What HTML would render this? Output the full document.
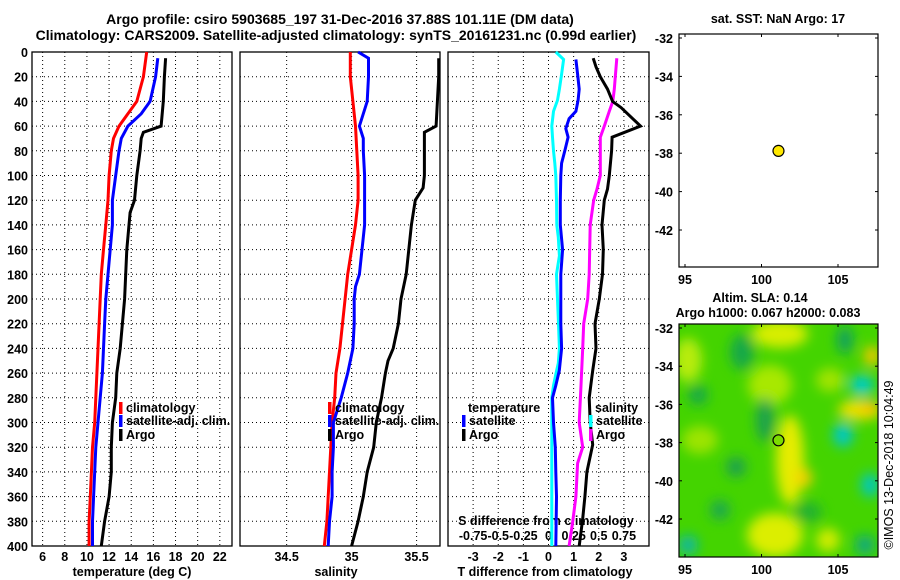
<!DOCTYPE html>
<html><head><meta charset="utf-8"><style>
body{margin:0;background:#fff}
svg{display:block;font-family:"Liberation Sans",sans-serif;font-weight:bold}
text{font-size:12.5px;fill:#000}
</style></head><body>
<svg id="c" width="900" height="580" viewBox="0 0 900 580" xmlns="http://www.w3.org/2000/svg">
<defs>
<filter id="bl" x="-20%" y="-20%" width="140%" height="140%"><feGaussianBlur stdDeviation="6"/></filter>
<clipPath id="mc"><rect x="679" y="324" width="199" height="233"/></clipPath>
</defs>
<text x="340" y="24" text-anchor="middle" style="font-size:14px">Argo profile: csiro 5903685_197 31-Dec-2016 37.88S 101.11E (DM data)</text>
<text x="336" y="40" text-anchor="middle" style="font-size:14px">Climatology: CARS2009. Satellite-adjusted climatology: synTS_20161231.nc (0.99d earlier)</text>
<text x="778" y="23" text-anchor="middle">sat. SST: NaN Argo: 17</text>
<text x="760" y="302" text-anchor="middle">Altim. SLA: 0.14</text>
<text x="768" y="317" text-anchor="middle">Argo h1000: 0.067 h2000: 0.083</text>
<text transform="translate(893,465) rotate(-90)" text-anchor="middle" style="font-weight:normal;font-size:12.5px">©IMOS 13-Dec-2018 10:04:49</text>
<g id="heat" clip-path="url(#mc)">
<rect x="679" y="324" width="199" height="233" fill="#44d400"/>
<g filter="url(#bl)">
<ellipse cx="688" cy="360" rx="14" ry="22" fill="#b8ec10"/>
<ellipse cx="780" cy="334" rx="28" ry="14" fill="#d8ee00"/>
<ellipse cx="770" cy="385" rx="22" ry="20" fill="#a8e800"/>
<ellipse cx="790" cy="460" rx="14" ry="45" fill="#e6ec00"/>
<ellipse cx="804" cy="478" rx="8" ry="10" fill="#f6d000"/>
<ellipse cx="775" cy="535" rx="28" ry="22" fill="#dcee00"/>
<ellipse cx="828" cy="540" rx="12" ry="12" fill="#d0ec00"/>
<ellipse cx="860" cy="410" rx="22" ry="10" fill="#eee000"/>
<ellipse cx="870" cy="408" rx="8" ry="7" fill="#ffc000"/>
<ellipse cx="872" cy="356" rx="8" ry="10" fill="#f6c800"/>
<ellipse cx="700" cy="440" rx="18" ry="14" fill="#9ce400"/>
<ellipse cx="830" cy="380" rx="14" ry="12" fill="#a0e400"/>
<ellipse cx="742" cy="352" rx="12" ry="18" fill="#18a848"/>
<ellipse cx="698" cy="395" rx="10" ry="10" fill="#18a848"/>
<ellipse cx="765" cy="420" rx="9" ry="22" fill="#1aa050"/>
<ellipse cx="736" cy="467" rx="10" ry="10" fill="#1aa050"/>
<ellipse cx="720" cy="510" rx="10" ry="10" fill="#1aa850"/>
<ellipse cx="845" cy="340" rx="8" ry="14" fill="#10a060"/>
<ellipse cx="862" cy="385" rx="12" ry="10" fill="#00ccc8"/>
<ellipse cx="843" cy="435" rx="10" ry="12" fill="#00c8c8"/>
<ellipse cx="870" cy="485" rx="9" ry="12" fill="#00c8c0"/>
<ellipse cx="688" cy="545" rx="10" ry="10" fill="#10b8a0"/>
<ellipse cx="808" cy="512" rx="14" ry="10" fill="#20b030"/>
<ellipse cx="865" cy="545" rx="10" ry="10" fill="#10a880"/>
</g>
</g>
</svg>
<script>
// ---- data arrays ----
const tDepth  = [0,20,40,50,60,70,80,100,120,140,160,180,200,220,240,260,280,300,320,340,360,380,400];
const tClim   = [15.4,15.1,14.5,13.7,12.9,12.4,12.2,12.0,11.9,11.7,11.5,11.3,11.2,11.1,11.0,10.9,10.8,10.7,10.5,10.4,10.3,10.2,10.2];
const tSatDepth=[5,20,40,50,60,70,80,100,120,140,160,180,200,220,240,260,280,300,320,340,360,380,400];
const tSat    = [16.4,16.2,15.7,14.9,13.7,13.1,12.9,12.6,12.3,12.3,12.1,11.9,11.7,11.6,11.5,11.4,11.2,11.0,10.8,10.7,10.6,10.5,10.5];
const tArgoDepth=[5,20,40,60,65,70,80,100,120,130,140,160,180,200,220,240,260,280,300,320,340,360,380,400];
const tArgo   = [17.1,17.0,16.9,16.7,15.1,14.9,14.8,14.5,14.3,13.9,13.8,13.6,13.5,13.4,13.2,13.0,12.7,12.6,12.3,12.2,12.2,12.0,11.6,11.3];
const sClimDepth=[0,20,40,60,80,100,120,140,160,180,200,220,240,260,280,300,320,340,360,380,400];
const sClim   = [34.99,34.99,35.01,35.03,35.04,35.05,35.05,35.03,35.0,34.97,34.95,34.93,34.91,34.88,34.87,34.85,34.84,34.83,34.82,34.81,34.79];
const sSatDepth=[0,5,20,40,60,70,80,100,120,140,160,180,190,200,220,240,260,280,300,320,340,360,380,400];
const sSat    = [35.05,35.13,35.13,35.12,35.06,35.09,35.09,35.10,35.10,35.10,35.08,35.06,35.03,35.02,35.02,35.01,34.97,34.92,34.86,34.86,34.85,34.85,34.83,34.82];
const sArgoDepth=[5,20,40,60,65,80,100,110,120,140,160,180,200,220,240,250,260,280,300,320,340,360,380,400];
const sArgo   = [35.67,35.67,35.66,35.65,35.56,35.56,35.56,35.55,35.49,35.46,35.44,35.42,35.38,35.36,35.32,35.28,35.26,35.23,35.19,35.17,35.12,35.09,35.05,35.0];
const dTSatDepth=[6,18,30,39,48,54,62,69,80,90,100,120,140,160,180,200,220,240,258,270,280,300,320,340,360,400];
const dTSat   = [1.09,1.16,1.22,1.18,1.09,0.82,0.69,0.78,0.65,0.52,0.49,0.47,0.47,0.56,0.49,0.49,0.49,0.52,0.43,0.29,0.16,0.20,0.27,0.29,0.32,0.29];
const dTArgoDepth=[5,12,20,30,40,45,60,69,80,100,111,120,140,160,180,200,220,240,258,280,300,318,340,360,378,400];
const dTArgo  = [1.78,1.89,2.06,2.35,2.55,2.89,3.66,2.53,2.51,2.42,2.35,2.22,2.13,2.18,2.15,2.02,1.85,1.89,1.76,1.62,1.66,1.76,1.53,1.45,1.36,1.22];
const dSSatDepth=[0,6,18,30,39,48,60,69,80,90,100,120,140,150,165,180,200,220,240,252,261,270,280,300,400];
const dSSat   = [0.073,0.15,0.13,0.108,0.09,0.05,0.033,0.04,0.05,0.063,0.073,0.08,0.083,0.098,0.108,0.08,0.09,0.10,0.108,0.098,0.073,0.05,0.033,0.033,0.033];
const dSArgoDepth=[5,30,40,48,60,69,100,111,120,140,180,200,220,240,270,300,320,333,360,381,400];
const dSArgo  = [0.68,0.655,0.64,0.605,0.555,0.515,0.515,0.483,0.45,0.415,0.405,0.39,0.35,0.34,0.323,0.305,0.34,0.29,0.273,0.24,0.205];
const depthTicks=[0,20,40,60,80,100,120,140,160,180,200,220,240,260,280,300,320,340,360,380,400];
const tTicks=[6,8,10,12,14,16,18,20,22];
const sTicks=[34.5,35,35.5];
const dTTicks=[-3,-2,-1,0,1,2,3];
const dSTickLabels=["-0.75","-0.5","-0.25","0","0.25","0.5","0.75"];
const dSTickVals=[-0.75,-0.5,-0.25,0,0.25,0.5,0.75];
const latTicks=[-32,-34,-36,-38,-40,-42];
const lonTicks=[95,100,105];
const argoLon=101.11, argoLat=-37.88;

// ---- scales ----
const Y=d=>52+d*1.235;
const P1={x0:32,x1:232,v0:5.04,v1:23.1};
const P2={x0:240,x1:440,v0:34.141,v1:35.68};
const P3={x0:448,x1:649,v0:-4,v1:4};
const sx=(p,v)=>p.x0+(v-p.v0)/(p.v1-p.v0)*(p.x1-p.x0);
const xT=v=>sx(P1,v), xS=v=>sx(P2,v), xD=v=>sx(P3,v), xDS=v=>sx(P3,v*4);
const lonX=l=>685+(l-95)*15.3;
const latY1=l=>38+(-32-l)*19.2;
const latY2=l=>328+(-32-l)*19.1;

const svg=document.getElementById('c');
const NS='http://www.w3.org/2000/svg';
function mk(tag,attrs,parent){const e=document.createElementNS(NS,tag);for(const k in attrs)e.setAttribute(k,attrs[k]);(parent||svg).appendChild(e);return e;}
function txt(x,y,s,anchor,parent){const t=mk('text',{x:x,y:y,'text-anchor':anchor||'middle'},parent);t.textContent=s;return t;}

// panels
const panels=[[P1,'temperature-panel'],[P2,'salinity-panel'],[P3,'difference-panel']];
panels.forEach(([p,name])=>{
  const g=mk('g',{});
  
  
  depthTicks.forEach(d=>{
    if(d>0&&d<400){const l=mk('line',{x1:p.x0,x2:p.x1,y1:Y(d),y2:Y(d),stroke:'#000','stroke-width':1,'stroke-dasharray':'1 3'},g);
    
    }
  });
});
tTicks.forEach(v=>{const l=mk('line',{x1:xT(v),x2:xT(v),y1:52,y2:546,stroke:'#000','stroke-dasharray':'1 3'});
  
  
  const t=txt(xT(v),561,String(v));
  
  });
sTicks.forEach(v=>{const l=mk('line',{x1:xS(v),x2:xS(v),y1:52,y2:546,stroke:'#000','stroke-dasharray':'1 3'});
  
  
  const t=txt(xS(v),561,String(v));
  
  });
dTTicks.forEach(v=>{const l=mk('line',{x1:xD(v),x2:xD(v),y1:52,y2:546,stroke:'#000','stroke-dasharray':'1 3'});
  
  
  const t=txt(xD(v),561,String(v));
  
  });
depthTicks.forEach(d=>{const t=txt(28,Y(d)+5,String(d),'end');
  
  });
[P1,P2,P3].forEach(p=>{const r=mk('rect',{x:p.x0,y:52,width:p.x1-p.x0,height:494,fill:'none',stroke:'#000','stroke-width':1.3});
  
  });
let t;
t=txt(132,576,'temperature (deg C)');
t=txt(336,576,'salinity');
t=txt(545,576,'T difference from climatology');
t=txt(546,525,'S difference from climatology');
dSTickVals.forEach((v,i)=>{const tt=txt(xDS(v),540,dSTickLabels[i]);
  
  });

// series
function line(depths,vals,fx,color,name){
  const pts=depths.map((d,i)=>fx(vals[i]).toFixed(1)+','+Y(d).toFixed(1)).join(' ');
  const p=mk('polyline',{points:pts,fill:'none',stroke:color,'stroke-width':3,'stroke-linejoin':'miter'});
  
  
}
line(tDepth,tClim,xT,'#ff0000','temp-climatology-line');
line(tSatDepth,tSat,xT,'#0000ff','temp-satellite-line');
line(tArgoDepth,tArgo,xT,'#000000','temp-argo-line');
line(sClimDepth,sClim,xS,'#ff0000','sal-climatology-line');
line(sSatDepth,sSat,xS,'#0000ff','sal-satellite-line');
line(sArgoDepth,sArgo,xS,'#000000','sal-argo-line');
line(dSSatDepth,dSSat,xDS,'#00ffff','sdiff-satellite-line');
line(dTSatDepth,dTSat,xD,'#0000ff','tdiff-satellite-line');
line(dSArgoDepth,dSArgo,xDS,'#ff00ff','sdiff-argo-line');
line(dTArgoDepth,dTArgo,xD,'#000000','tdiff-argo-line');

// legends
function legend(x,y,color,label){
  const r=mk('rect',{x:x,y:y-10,width:3.5,height:12,fill:color});
  
  
  const tt=txt(x+7,y,label,'start');
  
  
}
legend(119,412,'#ff0000','climatology');legend(119,425,'#0000ff','satellite-adj. clim.');legend(119,439,'#000','Argo');
legend(328,412,'#ff0000','climatology');legend(328,425,'#0000ff','satellite-adj. clim.');legend(328,439,'#000','Argo');
t=txt(468,412,'temperature','start');
legend(462,425,'#0000ff','satellite');legend(462,439,'#000','Argo');
t=txt(595,412,'salinity','start');
legend(589,425,'#00ffff','satellite');legend(589,439,'#ff00ff','Argo');

// maps
function mapAxes(y0,y1,latY,name){
  const r=mk('rect',{x:679,y:y0,width:199,height:y1-y0,fill:'none',stroke:'#000','stroke-width':1.2});
  
  
  latTicks.forEach(l=>{const yy=latY(l);
    mk('line',{x1:679,x2:682,y1:yy,y2:yy,stroke:'#000'});mk('line',{x1:875,x2:878,y1:yy,y2:yy,stroke:'#000'});
    const tt=txt(673,yy+5,String(l),'end');
    
    });
  lonTicks.forEach(l=>{const xx=lonX(l);
    mk('line',{x1:xx,x2:xx,y1:y0,y2:y0+3,stroke:'#000'});mk('line',{x1:xx,x2:xx,y1:y1-3,y2:y1,stroke:'#000'});
    const tt=txt(xx,y1+17,String(l));
    
    });
}
mapAxes(34,267,latY1,'sst-map-frame');
mapAxes(324,557,latY2,'sla-map-frame');
let c=mk('circle',{cx:lonX(argoLon),cy:latY1(argoLat),r:5.5,fill:'#ffe800',stroke:'#000','stroke-width':1.2});


c=mk('circle',{cx:lonX(argoLon),cy:latY2(argoLat),r:5.5,fill:'#7cdc00',stroke:'#000','stroke-width':1.2});


</script>
</body></html>
